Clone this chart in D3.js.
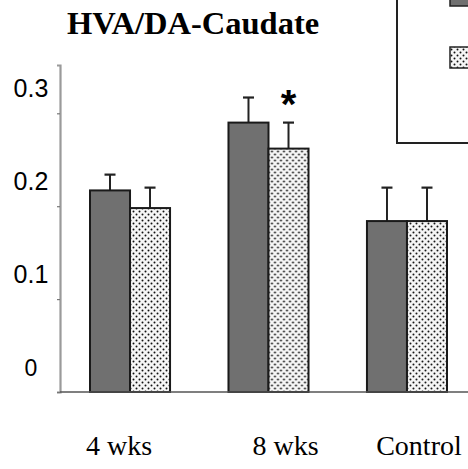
<!DOCTYPE html>
<html>
<head>
<meta charset="utf-8">
<script src="https://cdn.jsdelivr.net/npm/d3@7"></script>
<style>
  html, body { margin: 0; padding: 0; background: #fff; }
  svg { display: block; }
</style>
</head>
<body>
<div id="chart"></div>
<script>
// data
var categories = ["4 wks", "8 wks", "Control"];
var series = ["treated", "vehicle"];
var meanTreated = [0.217, 0.290, 0.184];
var meanVehicle = [0.198, 0.262, 0.184];
var semTreated = [0.017, 0.027, 0.036];
var semVehicle = [0.022, 0.028, 0.036];
var yTicks = [0, 0.1, 0.2, 0.3];
var yTickLabels = ["0", "0.1", "0.2", "0.3"];
var starred = [{cat: "8 wks", s: "vehicle"}];

var W = 468, H = 469;
var svg = d3.select("#chart").append("svg")
    .attr("width", W)
    .attr("height", H);

var defs = svg.append("defs");
var pat = defs.append("pattern")
    .attr("id", "dots")
    .attr("patternUnits", "userSpaceOnUse")
    .attr("width", 6)
    .attr("height", 6);
pat.append("rect").attr("width", 6).attr("height", 6).attr("fill", "#f6f6f6");
pat.append("circle").attr("cx", 1.5).attr("cy", 1.5).attr("r", 1).attr("fill", "#111");
pat.append("circle").attr("cx", 4.5).attr("cy", 4.5).attr("r", 1).attr("fill", "#111");

var fills = {treated: "#707070", vehicle: "url(#dots)"};

var y = d3.scaleLinear().domain([0, 0.352]).range([392, 65]);
var x0 = d3.scaleBand().domain(categories).range([90, 447]).paddingInner(0.422).paddingOuter(0);
var x1 = d3.scaleBand().domain(series).range([0, x0.bandwidth()]);

// title
svg.append("text")
    .attr("x", 67)
    .attr("y", 34)
    .attr("font-family", "'Liberation Serif', 'Times New Roman', serif")
    .attr("font-weight", "bold")
    .attr("font-size", 32.5)
    .attr("fill", "#000")
    .text("HVA/DA-Caudate");

// legend box (cut off by the right/top edges in the original)
var lg = svg.append("g");
lg.append("rect")
    .attr("x", 397).attr("y", -20)
    .attr("width", 120).attr("height", 163)
    .attr("fill", "#fff").attr("stroke", "#222").attr("stroke-width", 2);
lg.selectAll("rect.sw").data(series).enter().append("rect")
    .attr("class", "sw")
    .attr("x", 450)
    .attr("y", function(d, i) { return -15 + i * 62; })
    .attr("width", 40).attr("height", 21)
    .attr("fill", function(d) { return fills[d]; })
    .attr("stroke", "#222").attr("stroke-width", 1.5);

// y axis
var yAxis = d3.axisLeft(y).tickValues(yTicks).tickSize(3).tickFormat("");
var ya = svg.append("g").attr("transform", "translate(60,0)").call(yAxis);
ya.select(".domain").attr("stroke", "#9a9a9a").attr("stroke-width", 2.2);
ya.selectAll(".tick line").attr("stroke", "#777").attr("stroke-width", 1.2);

svg.selectAll("text.ylab").data(yTicks).enter().append("text")
    .attr("class", "ylab")
    .attr("x", 31)
    .attr("y", function(d) { return y(d) - 16; })
    .attr("text-anchor", "middle")
    .attr("font-family", "'Liberation Sans', Arial, sans-serif")
    .attr("font-size", function(d) { return d === 0 ? 23 : 25; })
    .attr("fill", "#000")
    .text(function(d, i) { return yTickLabels[i]; });

// bars
var rows = categories.map(function(c, i) {
  return {cat: c, vals: [
    {s: "treated", v: meanTreated[i], e: semTreated[i]},
    {s: "vehicle", v: meanVehicle[i], e: semVehicle[i]}
  ]};
});

var groups = svg.selectAll("g.grp").data(rows).enter().append("g")
    .attr("class", "grp")
    .attr("transform", function(d) { return "translate(" + x0(d.cat) + ",0)"; });

// error bars first so the bars cover the lower stem
groups.selectAll("line.stem").data(function(d) { return d.vals; }).enter().append("line")
    .attr("class", "stem")
    .attr("x1", function(d) { return x1(d.s) + x1.bandwidth() / 2; })
    .attr("x2", function(d) { return x1(d.s) + x1.bandwidth() / 2; })
    .attr("y1", function(d) { return y(d.v); })
    .attr("y2", function(d) { return y(d.v + d.e); })
    .attr("stroke", "#222").attr("stroke-width", 2);
groups.selectAll("line.cap").data(function(d) { return d.vals; }).enter().append("line")
    .attr("class", "cap")
    .attr("x1", function(d) { return x1(d.s) + x1.bandwidth() / 2 - 5.5; })
    .attr("x2", function(d) { return x1(d.s) + x1.bandwidth() / 2 + 5.5; })
    .attr("y1", function(d) { return y(d.v + d.e); })
    .attr("y2", function(d) { return y(d.v + d.e); })
    .attr("stroke", "#222").attr("stroke-width", 2.2);

groups.selectAll("rect.bar").data(function(d) { return d.vals; }).enter().append("rect")
    .attr("class", "bar")
    .attr("x", function(d) { return x1(d.s); })
    .attr("y", function(d) { return y(d.v); })
    .attr("width", x1.bandwidth())
    .attr("height", function(d) { return y(0) - y(d.v); })
    .attr("fill", function(d) { return fills[d.s]; })
    .attr("stroke", "#1a1a1a").attr("stroke-width", 2);

// baseline
svg.append("line")
    .attr("x1", 60).attr("x2", W)
    .attr("y1", y(0)).attr("y2", y(0))
    .attr("stroke", "#555").attr("stroke-width", 1.6);

// significance marker
starred.forEach(function(st) {
  var i = categories.indexOf(st.cat);
  var v = st.s === "vehicle" ? meanVehicle[i] + semVehicle[i] : meanTreated[i] + semTreated[i];
  svg.append("text")
      .attr("x", x0(st.cat) + x1(st.s) + x1.bandwidth() / 2)
      .attr("y", y(v) - 5)
      .attr("text-anchor", "middle")
      .attr("font-family", "'Liberation Sans', Arial, sans-serif")
      .attr("font-weight", "bold")
      .attr("font-size", 40)
      .attr("fill", "#000")
      .text("*");
});

// category labels (they sit a little off the group centres in the original)
var labelShift = [-11, 17, 12];
svg.selectAll("text.xlab").data(categories).enter().append("text")
    .attr("class", "xlab")
    .attr("x", function(d, i) { return x0(d) + x0.bandwidth() / 2 + labelShift[i]; })
    .attr("y", 455)
    .attr("text-anchor", "middle")
    .attr("font-family", "'Liberation Serif', 'Times New Roman', serif")
    .attr("font-size", 28)
    .attr("fill", "#000")
    .text(function(d) { return d; });
</script>
</body>
</html>
